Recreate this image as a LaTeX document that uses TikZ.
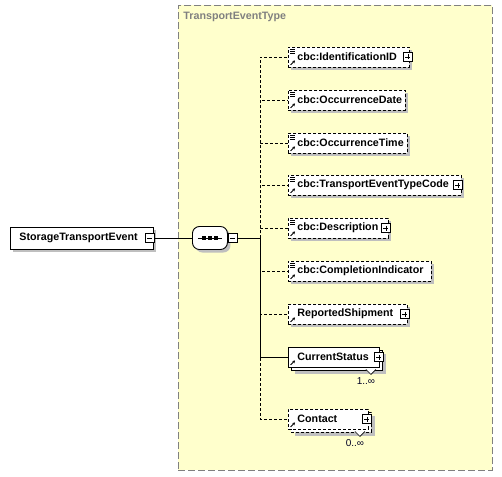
\documentclass[tikz,border=0pt]{standalone}
\usepackage{fontspec}
\setmainfont{Liberation Sans}
\usetikzlibrary{shadows,arrows.meta}

\definecolor{typefill}{HTML}{FFFFCC}
\definecolor{typeedge}{HTML}{808080}
\newcommand{\elemfont}{\bfseries\fontsize{10.7}{12}\selectfont}
\newcommand{\multfont}{\fontsize{10}{12}\selectfont}

\begin{document}
\begin{tikzpicture}[x=1pt, y=-1pt, line width=0.9pt]
  \tikzstyle{elembase} = [draw, fill=white, anchor=west, inner xsep=0pt, inner ysep=0pt,
    minimum height=20pt, align=left, font=\elemfont, execute at begin node=\hspace*{9pt}]
  \tikzstyle{element} = [elembase,
    drop shadow={shadow xshift=3pt, shadow yshift=-3pt, fill=black!25, opacity=1}]
  \tikzstyle{optional} = [element, dash pattern=on 3pt off 2pt]
  \tikzstyle{stacked} = [elembase,
    drop shadow={shadow xshift=7pt, shadow yshift=-7pt, fill=black!25, opacity=1},
    copy shadow={shadow xshift=3pt, shadow yshift=-3pt, fill=white, draw=black}]
  \tikzstyle{optstacked} = [elembase, dash pattern=on 3pt off 2pt,
    drop shadow={shadow xshift=7pt, shadow yshift=-7pt, fill=black!25, opacity=1},
    copy shadow={shadow xshift=3pt, shadow yshift=-3pt, fill=white, draw=black,
      dash pattern=on 3pt off 2pt}]
  \tikzstyle{compositor} = [rectangle, rounded corners=7pt, draw, fill=white,
    anchor=west, minimum width=35pt, minimum height=23pt, inner sep=0pt,
    drop shadow={shadow xshift=3pt, shadow yshift=-3pt, fill=black!25, opacity=1}]
  \tikzstyle{expander} = [draw, fill=white, minimum size=9pt, inner sep=0pt, line width=0.7pt]
  \tikzstyle{minusbox} = [expander, path picture={
    \draw ([xshift=2pt]path picture bounding box.west) -- ([xshift=-2pt]path picture bounding box.east);}]
  \tikzstyle{plusbox} = [expander, path picture={
    \draw ([xshift=2pt]path picture bounding box.west) -- ([xshift=-2pt]path picture bounding box.east);
    \draw ([yshift=-2pt]path picture bounding box.north) -- ([yshift=2pt]path picture bounding box.south);}]
  \tikzstyle{typebox} = [draw=typeedge, fill=typefill, dash pattern=on 7pt off 3pt, anchor=north west]
  \tikzstyle{typetitle} = [anchor=west, text=typeedge, font=\elemfont, inner sep=0pt]
  \tikzstyle{mult} = [font=\multfont, text=black!85!blue, inner sep=0pt]
  \tikzstyle{line} = [draw]
  \tikzstyle{optline} = [draw, dash pattern=on 3pt off 2pt]

  \useasboundingbox (0,0) rectangle (502,476);

  % Type container
  \node [typebox, minimum width=314pt, minimum height=465pt] (type) at (178,5) {};
  \node [typetitle] (typename) at (183,17) {TransportEventType};

  % Place nodes
  \node [element, text width=143pt, minimum height=22pt] (root) at (10,238) {StorageTransportEvent};
  \node [minusbox] (rootminus) at ([xshift=-4pt]root.east) {};

  \node [compositor] (seq) at (192,238) {};
  \draw ([xshift=-12pt]seq.center) -- ([xshift=12pt]seq.center);
  \foreach \dx in {-6,0,6}
    \fill ([xshift=\dx pt]seq.center) +(-1.6pt,-1.6pt) rectangle +(1.6pt,1.6pt);
  \node [minusbox] (seqminus) at ([xshift=4.5pt]seq.east) {};
  \coordinate (fork) at (260,238);

  \node [optional, text width=121pt] (id) at (288,57) {cbc:IdentificationID};
  \node [optional, text width=117pt] (odate) at (288,100) {cbc:OccurrenceDate};
  \node [optional, text width=119pt] (otime) at (288,143) {cbc:OccurrenceTime};
  \node [optional, text width=173pt] (code) at (288,185) {cbc:TransportEventTypeCode};
  \node [optional, text width=100pt] (desc) at (288,228) {cbc:Description};
  \node [optional, text width=143pt] (compl) at (288,271) {cbc:CompletionIndicator};
  \node [optional, text width=119pt] (shipment) at (288,314) {ReportedShipment};
  \node [stacked, text width=91pt] (status) at (288,357) {CurrentStatus};
  \node [optstacked, text width=80pt] (contact) at (288,419) {Contact};

  \node [plusbox] (idplus) at ([xshift=-2pt]id.east) {};
  \node [plusbox] (codeplus) at ([xshift=-4pt]code.east) {};
  \node [plusbox] (descplus) at ([xshift=-3pt]desc.east) {};
  \node [plusbox] (shipmentplus) at ([xshift=-3pt]shipment.east) {};
  \node [plusbox] (statusplus) at ([xshift=-1pt]status.east) {};
  \node [plusbox] (contactplus) at ([xshift=-2pt]contact.east) {};

  % Small markers
  \foreach \n in {id,odate,otime,code,desc,compl}
    \foreach \dy in {-3,-5,-7}
      \draw [line width=0.6pt] ([shift={(2pt,\dy pt)}]\n.north west) -- ++(4.5pt,0pt);
  \foreach \n in {id,odate,otime,code,desc,compl,shipment,status,contact}
    \draw [line width=0.8pt, -{Stealth[length=2.6pt,width=3pt]}]
      ([shift={(2.5pt,2.5pt)}]\n.south west) -- ++(4.5pt,4.5pt);

  \draw [fill=white, line width=0.6pt] ([shift={(-14pt,-2pt)}]status.south east) -- ++(5pt,-5pt) -- ++(5pt,5pt);
  \draw [fill=white, line width=0.6pt] ([shift={(-14pt,-2pt)}]contact.south east) -- ++(5pt,-5pt) -- ++(5pt,5pt);
  \node [mult] (statusmult) at ([shift={(-14pt,-14pt)}]status.south east) {1..∞};
  \node [mult] (contactmult) at ([shift={(-14pt,-14pt)}]contact.south east) {0..∞};

  % Draw edges
  \path [line] (rootminus.east) -- (seq.west);
  \path [line] (seqminus.east) -- (fork);
  \path [optline] (fork) |- (id.west);
  \path [optline] (fork) |- (odate.west);
  \path [optline] (fork) |- (otime.west);
  \path [optline] (fork) |- (code.west);
  \path [optline] (fork) |- (desc.west);
  \path [optline] (fork) |- (compl.west);
  \path [line] (fork) |- (status.west);
  \path [optline] (fork) |- (shipment.west);
  \path [optline] (fork) |- (contact.west);

\end{tikzpicture}
\end{document}
